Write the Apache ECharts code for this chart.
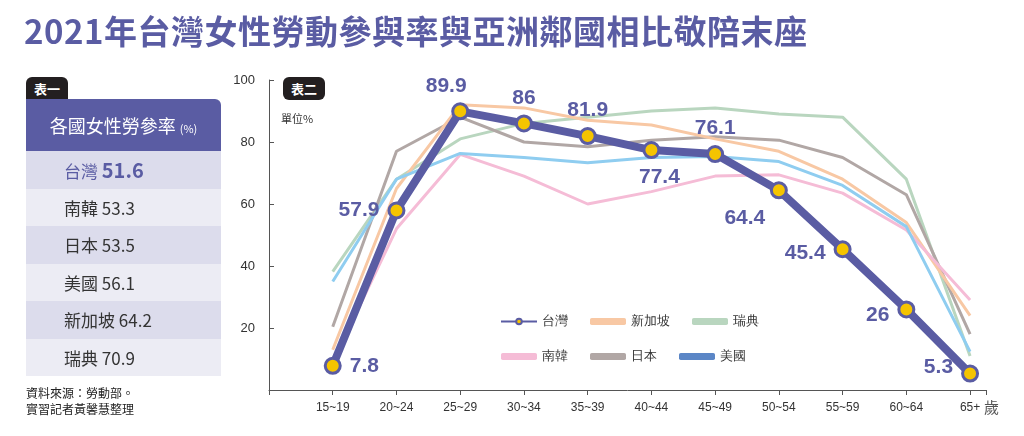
<!DOCTYPE html>
<html>
<head>
<meta charset="utf-8">
<script src="https://cdn.jsdelivr.net/npm/echarts@6/dist/echarts.min.js"></script>
<style>
body{margin:0;width:1024px;height:436px;background:#fff;font-family:"Noto Sans CJK TC","Noto Sans",sans-serif;position:relative;overflow:hidden}
.title{position:absolute;left:24px;top:6px;font-size:33px;font-weight:bold;color:#5a5ca3;letter-spacing:0.5px}
.tag{position:absolute;background:#231f20;color:#fff;font-size:13px;font-weight:bold;border-radius:6px 6px 0 0;padding:2px 8px}
.table{position:absolute;left:26px;top:99px;width:195px}
.table .hd{background:#5a5ca3;color:#fff;font-size:18px;height:52px;line-height:52px;text-align:center;border-radius:0 6px 0 0}
.table .hd small{font-size:11px}
.table .row{height:37.5px;line-height:37.5px;padding-left:38px;font-size:17px;color:#333}
.table .row:nth-child(even){background:#dcdcec}
.table .row:nth-child(odd){background:#ececf4}
.src{position:absolute;left:26px;top:385px;font-size:12px;color:#222;line-height:16px}
#chart{position:absolute;left:0;top:0;width:1024px;height:436px}
</style>
</head>
<body>
<div id="chart"></div>
<div class="title">2021年台灣女性勞動參與率與亞洲鄰國相比敬陪末座</div>
<div class="tag" style="left:26px;top:77px">表一</div>
<div class="table">
	<div class="hd">各國女性勞參率 <small>(%)</small></div>
	<div class="row" style="color:#5a5ca3">台灣 <b style="font-size:20px">51.6</b></div>
	<div class="row">南韓 53.3</div>
	<div class="row">日本 53.5</div>
	<div class="row">美國 56.1</div>
	<div class="row">新加坡 64.2</div>
	<div class="row">瑞典 70.9</div>
</div>
<div class="src">資料來源：勞動部。<br>實習記者黃馨慧整理</div>
<div class="tag" style="left:283px;top:77px;border-radius:6px">表二</div>
<div style="position:absolute;left:281px;top:110px;font-size:11px;color:#333">單位%</div>
<div style="position:absolute;left:984px;top:396px;font-size:15px;color:#555">歲</div>
<script>
	var ages = ['15~19','20~24','25~29','30~34','35~39','40~44','45~49','50~54','55~59','60~64','65+'];
	var data = {
		'瑞典':   [38.2, 68, 81, 86, 88, 90, 91, 89, 88, 68, 11],
		'日本':   [20.4, 77, 88, 80, 78.5, 80.6, 81.7, 80.6, 75, 63, 18],
		'新加坡': [13, 65, 92, 91, 87, 85.5, 81, 77, 68, 54, 24],
		'南韓':   [9, 52, 76, 69, 60, 64, 69, 69.4, 63.5, 51.6, 29],
		'美國':   [35, 68, 76.3, 75, 73.3, 75, 75.3, 73.7, 66, 52.7, 12.4],
		'台灣':   [7.8, 57.9, 89.9, 86, 81.9, 77.4, 76.1, 64.4, 45.4, 26, 5.3]
	};
	var colors = {'瑞典':'#b9d6bf','日本':'#b1a7a5','新加坡':'#f8c8a4','南韓':'#f5bcd6','美國':'#8fcdf0'};
	// 標籤位置 [position, offset]
	var lbl = [['right',[2,0]],['left',[-2,0]],['top',[-14,0]],['top',[0,0]],['top',[0,0]],['bottom',[8,2]],
		['top',[0,0]],['bottom',[-34,2]],['left',[-2,4]],['left',[-2,6]],['left',[-2,-6]]];

	var series = [];
	['瑞典','日本','新加坡','南韓','美國'].forEach(function(n){
		series.push({name:n, type:'line', data:data[n].map(function(v,i){ return [i,v]; }), symbol:'none',
			lineStyle:{width:3, color:colors[n]}, itemStyle:{color:colors[n]}, z:1});
	});
	series.push({
		name:'台灣', type:'line', z:5,
		data:data['台灣'].map(function(v,i){
			return {value:[i,v], label:{position:lbl[i][0], offset:lbl[i][1]}};
		}),
		symbol:'circle', symbolSize:15,
		lineStyle:{width:8, color:'#5a5ca3'},
		itemStyle:{color:'#f5c400', borderColor:'#5a5ca3', borderWidth:3},
		label:{show:true, fontSize:21, fontWeight:'bold', color:'#5a5ca3', distance:6,
			formatter:function(p){ return p.value[1]; }}
	});

	var myChart = echarts.init(document.getElementById('chart'));
	myChart.setOption({
		animation:false,
		grid:{left:269, right:38, top:80, bottom:46},
		legend:{
			left:495, top:310, width:270, itemGap:22, itemWidth:36, itemHeight:7,
			textStyle:{fontSize:13, color:'#333'},
			data:[{name:'台灣'},{name:'新加坡',icon:'roundRect'},{name:'瑞典',icon:'roundRect'},
				{name:'南韓',icon:'roundRect'},{name:'日本',icon:'roundRect'},{name:'美國',icon:'roundRect',itemStyle:{color:'#5b86c6'}}]
		},
		xAxis:{type:'value', min:-1, max:10.25, interval:1,
			splitLine:{show:false},
			axisLine:{lineStyle:{color:'#555'}},
			axisTick:{show:true, lineStyle:{color:'#555'}},
			axisLabel:{fontSize:12, color:'#333', margin:12,
				formatter:function(v){ return ages[v] || ''; }}
		},
		yAxis:{type:'value', min:0, max:100, interval:20,
			splitLine:{show:false},
			axisLine:{show:true, onZero:false, lineStyle:{color:'#555'}},
			axisTick:{show:true, inside:true, lineStyle:{color:'#555'}},
			axisLabel:{fontSize:13, color:'#333', margin:14,
				formatter:function(v){ return v === 0 ? '' : v; }}
		},
		series:series
	});
</script>
</body>
</html>
